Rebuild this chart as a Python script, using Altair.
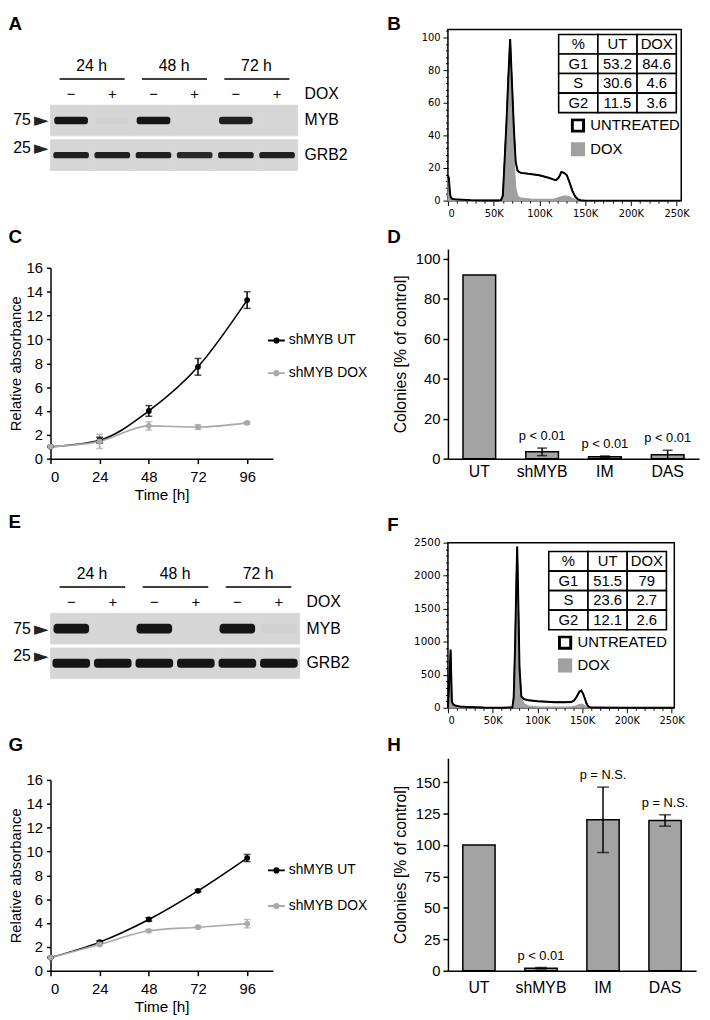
import altair as alt
import pandas as pd

FONT = "Liberation Sans"
HFONT = "DejaVu Sans"

# ---------------- data ----------------
blot_times = ["24 h", "24 h", "48 h", "48 h", "72 h", "72 h"]
blot_dox = ["−", "+", "−", "+", "−", "+"]
blot_markers = ["75", "25"]
myb_A = [1.0, 0.02, 1.0, 0.0, 0.95, 0.0]
grb2_A = [0.95, 0.95, 0.95, 0.9, 0.95, 0.95]
myb_E = [1.0, 0.0, 1.0, 0.0, 1.0, 0.02]
grb2_E = [1.0, 1.0, 1.0, 1.0, 1.0, 1.0]

cc_phases = ["G1", "S", "G2"]
cc_B_ut = [53.2, 30.6, 11.5]
cc_B_dox = [84.6, 4.6, 3.6]
cc_F_ut = [51.5, 23.6, 12.1]
cc_F_dox = [79, 2.7, 2.6]

hist_B_x = [0, 1, 2, 3, 5, 8, 15, 25, 40, 55, 58, 60, 62, 64, 66, 68, 70, 72, 74, 76,
            78, 80, 90, 100, 110, 115, 118, 121, 124, 127, 130, 133, 136, 139, 142, 145, 150, 200, 255]
hist_B_ut = [15, 14, 6, 2, 1, 0.8, 0.6, 0.3, 0.1, 0.1, 0.3, 3, 25, 48, 75, 99, 72, 45, 24, 18.5,
             17.5, 17, 16.3, 15.5, 14, 13, 12.5, 14, 17.5, 17, 15.5, 11, 6, 2.5, 0.8, 0.2, 0, 0, 0]
hist_B_dox = [15, 12, 5, 2, 1, 0.5, 0.4, 0.2, 0.1, 0.1, 0.2, 2, 25, 50, 76, 97, 62, 28, 8, 3,
              2, 1.5, 1, 0.8, 0.8, 1, 1.2, 1.8, 2.4, 2.8, 2.8, 2.3, 1.2, 0.5, 0.2, 0, 0, 0, 0]

hist_F_x = [0, 1.5, 3, 4.4, 6, 8, 13, 24, 40, 60, 72, 73.5, 75, 76.5, 77.4, 78.5, 80, 82, 85, 90,
            100, 110, 120, 130, 138, 141, 144, 147, 149, 151, 153, 155, 157, 160, 200, 253]
hist_F_ut = [0, 400, 880, 90, 50, 35, 20, 10, 3, 2, 5, 150, 900, 1900, 2440, 1700, 600, 170, 130, 115,
             100, 92, 85, 85, 88, 110, 170, 245, 260, 215, 140, 60, 15, 3, 0, 0]
hist_F_dox = [0, 250, 600, 60, 30, 20, 10, 5, 2, 1, 10, 200, 1000, 2000, 2450, 1600, 500, 150, 60, 25,
              15, 12, 12, 12, 15, 20, 35, 50, 55, 45, 30, 12, 4, 1, 0, 0]

time_h = [0, 24, 48, 72, 96]
C_ut = [1.0, 1.55, 4.0, 7.7, 13.3]
C_ut_err = [0.05, 0.25, 0.45, 0.7, 0.7]
C_dox = [1.0, 1.45, 2.75, 2.65, 3.0]
C_dox_err = [0.05, 0.6, 0.35, 0.2, 0.1]
G_ut = [1.1, 2.4, 4.3, 6.7, 9.45]
G_ut_err = [0.05, 0.1, 0.15, 0.1, 0.3]
G_dox = [1.1, 2.2, 3.35, 3.65, 3.95]
G_dox_err = [0.05, 0.1, 0.1, 0.1, 0.35]

colony_groups = ["UT", "shMYB", "IM", "DAS"]
D_vals = [92, 3.4, 1.0, 2.0]
D_err = [0, 1.9, 0.35, 2.2]
D_p = ["", "p < 0.01", "p < 0.01", "p < 0.01"]
H_vals = [100, 2.0, 120, 119.5]
H_err = [0, 0.6, 26, 4.5]
H_p = ["", "p < 0.01", "p = N.S.", "p = N.S."]

LEFT_X = -43
RIGHT_X = -62


def letter_layer(letter, tx, gap):
    """Panel letter drawn as the title of an invisible top axis."""
    return alt.Chart(pd.DataFrame({"v": [0, 1]})).mark_point(opacity=0).encode(
        x=alt.X("v:Q", axis=alt.Axis(orient="top", title=letter, labels=False, ticks=False, domain=False,
                                     grid=False, titleX=tx, titleY=-gap, titleAlign="left",
                                     titleBaseline="alphabetic", titleAngle=0, titleFontSize=19,
                                     titleFontWeight="bold", titleFont=FONT, titleColor="black")))


def spacer(h):
    return alt.Chart(pd.DataFrame({"v": [0]})).transform_filter("false").mark_point(opacity=0).encode(
        x=alt.X("v:Q", axis=None), y=alt.Y("v:Q", axis=None)).properties(width=1, height=h)


# ---------------- western blot ----------------
def blot_panel(letter, myb, grb2, gap, width, myb_th, grb2_th, blen):
    lanes = [t + " " + d for t, d in zip(blot_times, blot_dox)]
    rows = ["hdr", "dox", "MYB", "GRB2"]
    xs = alt.Scale(domain=lanes, paddingInner=0, paddingOuter=0)
    ys = alt.Scale(domain=rows, paddingInner=0.114, paddingOuter=0.186)
    X = alt.X("lane:N", scale=xs, axis=None)
    Y = alt.Y("row:N", scale=ys, axis=None)
    X0 = alt.X("lane:N", scale=xs, axis=None, bandPosition=0)
    X1 = alt.X("lane:N", scale=xs, axis=None, bandPosition=1)
    band_df = pd.DataFrame({"lane": lanes * 2, "row": ["MYB"] * 6 + ["GRB2"] * 6,
                            "level": list(myb) + list(grb2)})
    lane_df = pd.DataFrame({"lane": lanes, "sign": blot_dox, "row": ["dox"] * 6})
    grp_df = pd.DataFrame({"time": blot_times[0::2], "l1": lanes[0::2], "l2": lanes[1::2],
                           "row": ["hdr"] * 3, "urow": ["dox"] * 3})
    mk_df = pd.DataFrame({"lane": [lanes[0]] * 2, "row": ["MYB", "GRB2"], "kda": blot_markers,
                          "arrow": ["►", "►"]})
    op = alt.Opacity("level:Q", scale=alt.Scale(domain=[0, 1], range=[0, 1]), legend=None)

    bg = alt.Chart(band_df).mark_rect(fill="#d6d6d6", stroke="#d6d6d6", strokeWidth=0.8).encode(x=X, y=Y)
    b1 = alt.Chart(band_df).transform_filter("datum.row == 'MYB'").mark_tick(
        orient="horizontal", color="#151515", thickness=myb_th, size=blen,
        cornerRadius=myb_th / 3).encode(x=X, y=Y, opacity=op)
    b2 = alt.Chart(band_df).transform_filter("datum.row == 'GRB2'").mark_tick(
        orient="horizontal", color="#151515", thickness=grb2_th, size=blen + 2,
        cornerRadius=grb2_th / 3).encode(x=X, y=Y, opacity=op)
    signs = alt.Chart(lane_df).mark_text(fontSize=15, dy=8, font=FONT).encode(x=X, y=Y, text="sign:N")
    gtxt = alt.Chart(grp_df).mark_text(fontSize=16, dy=15, font=FONT).encode(
        x=alt.X("l1:N", scale=xs, axis=None, bandPosition=1), y=Y, text="time:N")
    uline = alt.Chart(grp_df).mark_rule(strokeWidth=1.5, color="black").encode(
        x=alt.X("l1:N", scale=xs, axis=None, bandPosition=0.22),
        x2=alt.X2("l2:N", bandPosition=0.8),
        y=alt.Y("urow:N", scale=ys, axis=None, bandPosition=0.27))
    dox_lbl = alt.Chart(pd.DataFrame({"lane": [lanes[-1]], "row": ["dox"], "label": ["DOX"]})).mark_text(
        align="left", dx=7, dy=8, fontSize=16, font=FONT).encode(x=X1, y=Y, text="label:N")
    prot_lbl = alt.Chart(pd.DataFrame({"lane": [lanes[-1]] * 2, "row": ["MYB", "GRB2"]})).mark_text(
        align="left", dx=7, fontSize=16, font=FONT).encode(x=X1, y=Y, text="row:N")
    mk_layers = []
    for prot, bp in (("MYB", 0.5), ("GRB2", 0.27)):
        sub = alt.Chart(mk_df).transform_filter(f"datum.row == '{prot}'")
        YB = alt.Y("row:N", scale=ys, axis=None, bandPosition=bp)
        mk_layers.append(sub.mark_text(align="right", dx=-20, fontSize=16, font=FONT).encode(
            x=X0, y=YB, text="kda:N"))
        mk_layers.append(sub.mark_text(align="right", dx=-2, fontSize=19, font="DejaVu Sans",
                                       color="#222").encode(x=X0, y=YB, text="arrow:N"))
    inner = alt.layer(bg, b1, b2, signs, gtxt, uline, dox_lbl, prot_lbl, *mk_layers)
    return alt.layer(inner, letter_layer(letter, LEFT_X, gap)).resolve_scale(x="independent").properties(
        width=width, height=149)


# ---------------- growth curves ----------------
LEG_PATH = ("M-1,0L1,0M0.26,0A0.26,0.26,0,1,1,-0.26,0A0.26,0.26,0,1,1,0.26,0"
            "M0.13,0A0.13,0.13,0,1,1,-0.13,0A0.13,0.13,0,1,1,0.13,0")


def growth_panel(letter, ut, ut_err, dox, dox_err, gap, leg_y, leg_pad):
    series = ["shMYB UT", "shMYB DOX"]
    df = pd.DataFrame({"time": time_h * 2, "series": [series[0]] * 5 + [series[1]] * 5,
                       "mean": list(ut) + list(dox), "err": list(ut_err) + list(dox_err)})
    base = alt.Chart(df).transform_calculate(lo="datum.mean - datum.err", hi="datum.mean + datum.err")
    xs = alt.Scale(domain=[0, 108.6], nice=False, zero=False)
    ys = alt.Scale(domain=[0, 16], nice=False)
    cs = alt.Scale(domain=series, range=["#000000", "#a9a9a9"])
    xax = alt.Axis(values=time_h, title="Time [h]", labelFontSize=15, titleFontSize=15.5, tickSize=5,
                   labelPadding=6, titlePadding=3, domainWidth=1.5, tickWidth=1.5)
    yax = alt.Axis(values=list(range(0, 17, 2)), title="Relative absorbance", labelFontSize=15,
                   titleFontSize=15, tickSize=4, labelPadding=4, titlePadding=3, domainWidth=1.5,
                   tickWidth=1.5)
    X = alt.X("time:Q", scale=xs, axis=xax)
    leg = alt.Legend(title=None, orient="none", legendX=219, legendY=leg_y, symbolType=LEG_PATH,
                     symbolSize=289, symbolStrokeWidth=1.8, labelFontSize=14, labelFont=FONT,
                     rowPadding=leg_pad, labelOffset=3, clipHeight=17)
    col = alt.Color("series:N", scale=cs, legend=None)
    line = base.mark_line(interpolate="monotone", strokeWidth=1.6).encode(
        x=X, y=alt.Y("mean:Q", scale=ys, axis=yax), color=alt.Color("series:N", scale=cs, legend=leg))
    pts = base.mark_circle(size=34, opacity=1).encode(x=X, y=alt.Y("mean:Q", scale=ys, axis=yax), color=col)
    rule = base.mark_rule(strokeWidth=1.5).encode(
        x=X, y=alt.Y("lo:Q", scale=ys, axis=yax), y2="hi:Q", color=col)
    cap_lo = base.mark_tick(orient="horizontal", size=7, thickness=1.5).encode(
        x=X, y=alt.Y("lo:Q", scale=ys, axis=yax), color=col)
    cap_hi = base.mark_tick(orient="horizontal", size=7, thickness=1.5).encode(
        x=X, y=alt.Y("hi:Q", scale=ys, axis=yax), color=col)
    inner = alt.layer(line, rule, cap_lo, cap_hi, pts)
    return alt.layer(inner, letter_layer(letter, LEFT_X, gap)).resolve_scale(x="independent").properties(
        width=225, height=193)


# ---------------- colony bars ----------------
def colony_panel(letter, vals, errs, plabels, ymax, yvals, height, width, gap, lab_pad, cap):
    df = pd.DataFrame({"group": colony_groups, "val": vals, "err": errs, "p": plabels})
    base = alt.Chart(df).transform_calculate(lo="datum.val - datum.err", hi="datum.val + datum.err")
    xs = alt.Scale(domain=colony_groups, paddingInner=0.48, paddingOuter=0.24)
    ys = alt.Scale(domain=[0, ymax], nice=False)
    xax = alt.Axis(title=None, labelAngle=0, ticks=False, labelFontSize=16, labelPadding=lab_pad,
                   domainWidth=1.5)
    yax = alt.Axis(values=yvals, title="Colonies [% of control]", labelFontSize=15, titleFontSize=16,
                   tickSize=5, labelPadding=3, titlePadding=7, domainWidth=1.5, tickWidth=1.5)
    X = alt.X("group:N", scale=xs, axis=xax)
    bars = base.mark_bar(fill="#a3a3a3", stroke="black", strokeWidth=1.5).encode(
        x=X, y=alt.Y("val:Q", scale=ys, axis=yax))
    eb = base.transform_filter("datum.err > 0")
    rule = eb.mark_rule(strokeWidth=1.5, color="black").encode(
        x=X, y=alt.Y("lo:Q", scale=ys, axis=yax), y2="hi:Q")
    c1 = eb.mark_tick(orient="horizontal", size=cap, thickness=1.5, color="black").encode(
        x=X, y=alt.Y("lo:Q", scale=ys, axis=yax))
    c2 = eb.mark_tick(orient="horizontal", size=cap, thickness=1.5, color="black").encode(
        x=X, y=alt.Y("hi:Q", scale=ys, axis=yax))
    txt = base.transform_filter("datum.p != ''").mark_text(dy=-12, fontSize=13, font=FONT).encode(
        x=X, y=alt.Y("hi:Q", scale=ys, axis=yax), text="p:N")
    inner = alt.layer(bars, rule, c1, c2, txt)
    return alt.layer(inner, letter_layer(letter, RIGHT_X, gap)).resolve_scale(x="independent").properties(
        width=width, height=height)


# ---------------- cell-cycle histograms ----------------
def hist_panel(letter, xv, ut, dox, xmax, ymax, yvals, ystep_minor, width, height, gap,
               tbl_ut, tbl_dox, tbl_xr, tbl_yr, leg_x, leg_y, leg_pad, ylab_size):
    series = ["UNTREATED", "DOX"]
    n = len(xv)
    df = pd.DataFrame({"dna": list(xv) * 2, "series": [series[0]] * n + [series[1]] * n,
                       "count": list(ut) + list(dox)})
    xsc = alt.Scale(domain=[0, xmax], nice=False, zero=False)
    ysc = alt.Scale(domain=[0, ymax], nice=False)
    xax = alt.Axis(values=[0, 50, 100, 150, 200, 250], title=None,
                   labelExpr="datum.value == 0 ? '0' : datum.value + 'K'",
                   labelFont=HFONT, labelFontSize=10, tickSize=5, labelPadding=3, domain=False)
    yax = alt.Axis(values=yvals, title=None, labelFont=HFONT, labelFontSize=ylab_size, format="d",
                   tickSize=5, labelPadding=3, domain=False)
    leg = alt.Legend(title=None, orient="none", legendX=leg_x, legendY=leg_y, symbolType="square",
                     symbolSize=130, symbolStrokeWidth=3, labelFontSize=15, labelFont=FONT,
                     rowPadding=leg_pad, labelOffset=5, clipHeight=14)
    X = alt.X("dna:Q", scale=xsc, axis=xax)
    Y = alt.Y("count:Q", stack=None, scale=ysc, axis=yax)
    area = alt.Chart(df).mark_area(strokeWidth=1.2).encode(
        x=X, y=Y,
        fill=alt.Fill("series:N", scale=alt.Scale(domain=series, range=["transparent", "#a0a0a0"]), legend=leg),
        stroke=alt.Stroke("series:N", scale=alt.Scale(domain=series, range=["#000000", "#a0a0a0"]), legend=leg))
    outline = alt.Chart(df).transform_filter("datum.series == 'UNTREATED'").mark_line(
        color="black", strokeWidth=2).encode(x=X, y=Y)
    hist = alt.layer(area, outline)

    cols = ["%", "UT", "DOX"]
    rows = ["%"] + cc_phases
    cells = []
    for r_i, r in enumerate(rows):
        for c in cols:
            if r == "%":
                t = c
            elif c == "%":
                t = r
            elif c == "UT":
                t = str(tbl_ut[r_i - 1])
            else:
                t = str(tbl_dox[r_i - 1])
            cells.append({"row": r, "col": c, "txt": t})
    tdf = pd.DataFrame(cells)
    tx = alt.Scale(domain=cols, range=tbl_xr, paddingInner=0, paddingOuter=0)
    ty = alt.Scale(domain=rows, range=tbl_yr, paddingInner=0, paddingOuter=0)
    TX = alt.X("col:N", scale=tx, axis=None)
    TY = alt.Y("row:N", scale=ty, axis=None)
    rect = alt.Chart(tdf).mark_rect(fill="white", stroke="black", strokeWidth=1.6).encode(x=TX, y=TY)
    ttxt = alt.Chart(tdf).mark_text(fontSize=15, font=FONT).encode(x=TX, y=TY, text="txt:N")
    table = alt.layer(rect, ttxt)

    xminor = [v for v in range(0, int(xmax) + 1, 10) if v % 50]
    yminor = [v * ystep_minor for v in range(int(ymax / ystep_minor) + 1) if (v * ystep_minor) not in yvals]
    minor = alt.Chart(pd.DataFrame({"dna": [0], "count": [0]})).mark_point(opacity=0).encode(
        x=alt.X("dna:Q", scale=xsc, axis=alt.Axis(orient="bottom", values=xminor, labels=False, domain=False,
                                                   tickSize=2.5, title=None)),
        y=alt.Y("count:Q", scale=ysc, axis=alt.Axis(orient="left", values=yminor, labels=False, domain=False,
                                                     tickSize=2.5, title=None)))
    return alt.layer(hist, table, minor, letter_layer(letter, RIGHT_X, gap)).resolve_scale(
        x="independent", y="independent").properties(
        width=width, height=height, view=alt.ViewBackground(stroke="black", strokeWidth=1.5))


A = blot_panel("A", myb_A, grb2_A, 0, 250, 7.5, 6.5, 34)
E = blot_panel("E", myb_E, grb2_E, 10, 252, 10, 9, 36)
C = growth_panel("C", C_ut, C_ut_err, C_dox, C_dox_err, 26, 65, 16)
G = growth_panel("G", G_ut, G_ut_err, G_dox, G_dox_err, 30, 83, 19)
D = colony_panel("D", D_vals, D_err, D_p, 105, [0, 20, 40, 60, 80, 100], 212, 254, 7, 5, 10)
H = colony_panel("H", H_vals, H_err, H_p, 169, [0, 25, 50, 75, 100, 125, 150], 215, 251, 8, 9, 12)
B = hist_panel("B", hist_B_x, hist_B_ut, hist_B_dox, 255, 104.8, [0, 20, 40, 60, 80, 100], 4, 236, 173, 0,
               cc_B_ut, cc_B_dox, [112, 231], [5, 84], 124, 90, 9, 10)
F = hist_panel("F", hist_F_x, hist_F_ut, hist_F_dox, 253, 2500, [0, 500, 1000, 1500, 2000, 2500], 100, 229, 167, 12,
               cc_F_ut, cc_F_dox, [102, 221], [9, 88], 111, 94, 8, 10.5)

IND = dict(color="independent", fill="independent", stroke="independent", opacity="independent")

left = alt.vconcat(A, spacer(51), C, spacer(10), E, spacer(51), G, spacing=0).resolve_scale(
    **IND).resolve_legend(**IND)
right = alt.vconcat(B, spacer(8), D, spacer(36), F, spacer(9), H, spacing=0).resolve_scale(
    **IND).resolve_legend(**IND)

chart = alt.hconcat(left, right, spacing=18).resolve_scale(**IND).resolve_legend(**IND).properties(
    padding={"left": 0, "top": 0, "right": 0, "bottom": 0}, background="white"
).configure(font=FONT).configure_view(stroke=None).configure_axis(
    grid=False, domainColor="black", tickColor="black", labelColor="black", titleColor="black",
    labelFont=FONT, titleFont=FONT, titleFontWeight="normal"
).configure_text(font=FONT, color="black").configure_legend(labelFont=FONT, labelColor="black")

chart.save("out.html", embed_options={"renderer": "svg", "actions": False})
